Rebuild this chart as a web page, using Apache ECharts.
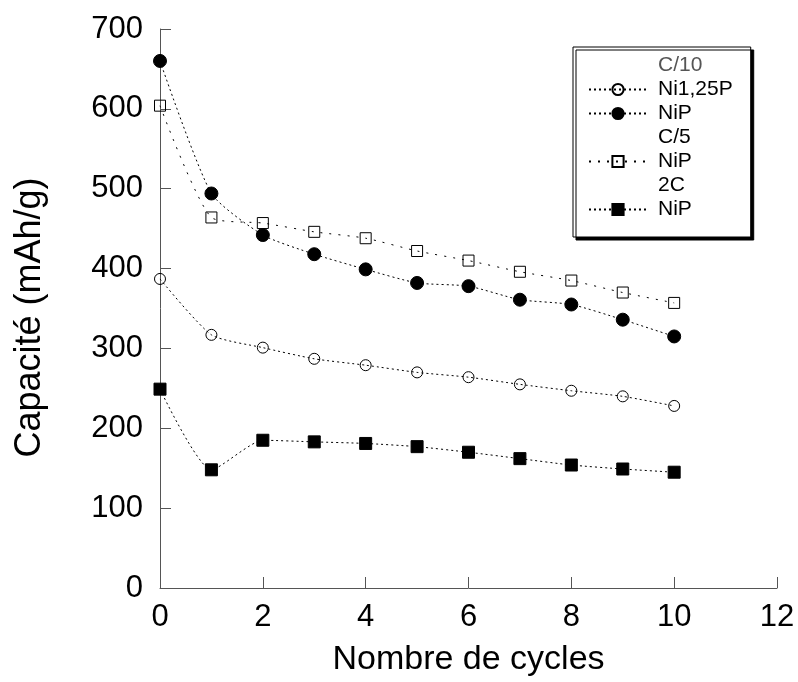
<!DOCTYPE html>
<html style="height: 100%">
<head>
    <meta charset="utf-8" />
    <title>Capacité</title>
    <script type="text/javascript" src="https://cdn.jsdelivr.net/npm/echarts@6/dist/echarts.min.js"></script>
</head>
<body style="height: 100%; margin: 0">
<div id="chart" style="width: 798px; height: 682px"></div>
<script type="text/javascript">
      // cycles 0..10
      var cycles = [0, 1, 2, 3, 4, 5, 6, 7, 8, 9, 10];
      // C/10
      var ni125pC10 = [387, 317, 301, 287, 279, 270, 264, 255, 247, 240, 228];
      var nipC10 = [660, 494, 442, 418, 399, 382, 378, 361, 355, 336, 315];
      // C/5
      var nipC5 = [604, 464, 457, 446, 438, 422, 410, 396, 385, 370, 357];
      // 2C
      var nip2C = [249, 148, 185, 183, 181, 177, 170, 162, 154, 149, 145];

      var xTicks = [0, 2, 4, 6, 8, 10, 12];
      var yTicks = [0, 100, 200, 300, 400, 500, 600, 700];

      // legend labels (series names must be unique, so map them)
      var legendLabels = {
        "C/10": "C/10",
        "Ni1,25P C/10": "Ni1,25P",
        "NiP C/10": "NiP",
        "C/5": "C/5",
        "NiP C/5": "NiP",
        "2C": "2C",
        "NiP 2C": "NiP"
      };

      function pairs(vals) {
        return cycles.map(function (c, i) { return [c, vals[i]]; });
      }

      function lineSeries(name, vals, symbol, size, filled, dash) {
        return {
          name: name,
          type: "line",
          data: pairs(vals),
          symbol: symbol,
          symbolSize: size,
          smooth: 0.2,
          itemStyle: {
            color: filled ? "#000" : "rgba(255,255,255,0)",
            borderColor: "#000",
            borderWidth: 1
          },
          lineStyle: { color: "#000", width: 1, type: dash },
          emphasis: { disabled: true }
        };
      }

      function header(name) {
        return { name: name, type: "line", data: [] };
      }

      var myChart = echarts.init(document.getElementById("chart"));
      var option = {
        animation: false,
        textStyle: { fontFamily: "Liberation Sans, Arial, sans-serif" },
        grid: { left: 160, right: 21, top: 29, bottom: 92 },
        legend: {
          orient: "vertical",
          left: 573,
          top: 47,
          padding: [8, 18, 17, 15],
          itemWidth: 58,
          itemHeight: 14,
          itemGap: 3,
          selectedMode: false,
          backgroundColor: "#fff",
          borderColor: "#000",
          borderWidth: 1,
          shadowColor: "#000",
          shadowOffsetX: 3,
          shadowOffsetY: 3,
          shadowBlur: 0,
          textStyle: { fontSize: 21, color: "#000", padding: [0, 0, 0, 6] },
          formatter: function (name) { return legendLabels[name]; },
          data: [
            { name: "C/10", icon: "none", textStyle: { color: "#555" } },
            "Ni1,25P C/10",
            "NiP C/10",
            { name: "C/5", icon: "none" },
            "NiP C/5",
            { name: "2C", icon: "none" },
            "NiP 2C"
          ]
        },
        xAxis: {
          type: "value",
          min: xTicks[0],
          max: xTicks[xTicks.length - 1],
          interval: 2,
          name: "Nombre de cycles",
          nameLocation: "middle",
          nameGap: 55,
          nameTextStyle: { fontSize: 34, color: "#000" },
          axisLine: { lineStyle: { color: "#555", width: 1 } },
          axisTick: { inside: true, length: 11, lineStyle: { color: "#555" } },
          axisLabel: { fontSize: 31, color: "#000", margin: 14 },
          splitLine: { show: false }
        },
        yAxis: {
          type: "value",
          min: yTicks[0],
          max: yTicks[yTicks.length - 1],
          interval: 100,
          name: "Capacité (mAh/g)",
          nameLocation: "middle",
          nameRotate: 90,
          nameGap: 112,
          nameTextStyle: { fontSize: 36, color: "#000", padding: [0, 18, 0, 0] },
          axisLine: { show: true, lineStyle: { color: "#555", width: 1 } },
          axisTick: { show: true, inside: true, length: 11, lineStyle: { color: "#555" } },
          axisLabel: { fontSize: 31, color: "#000", margin: 17 },
          splitLine: { show: false }
        },
        series: [
          header("C/10"),
          lineSeries("Ni1,25P C/10", ni125pC10, "circle", 11, false, [2, 3]),
          lineSeries("NiP C/10", nipC10, "circle", 13, true, [2, 3]),
          header("C/5"),
          lineSeries("NiP C/5", nipC5, "rect", 11, false, [2, 7]),
          header("2C"),
          lineSeries("NiP 2C", nip2C, "rect", 12, true, [2, 3])
        ]
      };
      myChart.setOption(option);
</script>
</body>
</html>
